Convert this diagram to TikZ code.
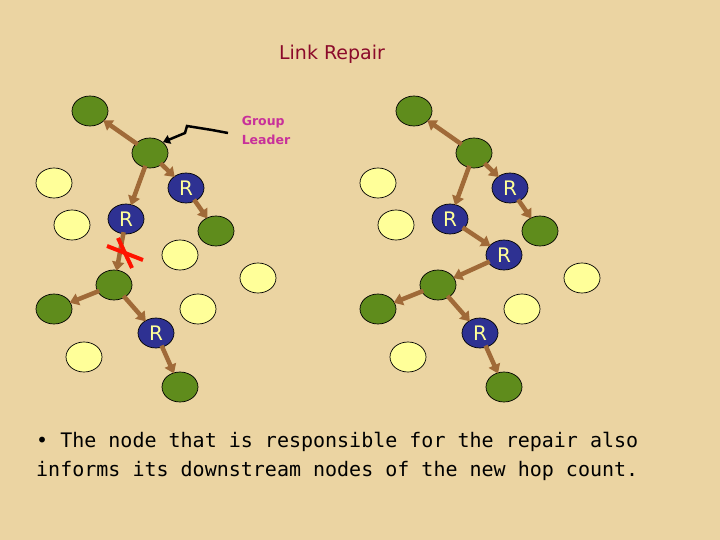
\documentclass[tikz,border=0pt]{standalone}
\usepackage{fontspec}
\usetikzlibrary{arrows.meta,shapes.geometric}
\definecolor{bg}{HTML}{EBD4A2}
\definecolor{gr}{HTML}{5F8C1C}
\definecolor{yl}{HTML}{FFFF99}
\definecolor{bl}{HTML}{2E3192}
\definecolor{br}{HTML}{A06A38}
\definecolor{mag}{HTML}{C8309A}
\definecolor{ttl}{HTML}{8B0A2A}
\newfontfamily\monof{DejaVu Sans Mono}
\newfontfamily\sansf{DejaVu Sans}
\tikzset{
 nd/.style={ellipse,draw=black,line width=0.7pt,minimum width=36pt,minimum height=30pt,inner sep=0pt},
 gn/.style={nd,fill=gr},
 yn/.style={nd,fill=yl},
 rn/.style={nd,fill=bl,text=yl,font=\sansf\fontsize{20}{20}\selectfont},
 ar/.style={draw=br,line width=4.5pt,-{Triangle[length=9pt,width=12pt]},shorten <=-2pt,shorten >=-1pt}
}
\begin{document}
\begin{tikzpicture}[x=1pt,y=-1pt]
\fill[bg] (0,0) rectangle (720,540);
\useasboundingbox (0,0) rectangle (720,540);
\node[text=ttl,font=\sansf\fontsize{19}{19}\selectfont] (title) at (332,54) {Link Repair};
\node[text=mag,font=\sansf\bfseries\fontsize{12.5}{19}\selectfont,align=left] (gl) at (266,130) {Group\\Leader};
% left tree
\node[gn] (L1) at (90,111) {};
\node[gn] (LL) at (150,153) {};
\node[yn] (LY1) at (54,183) {};
\node[rn] (LRa) at (186,188) {R};
\node[rn] (LRb) at (126,219) {R};
\node[yn] (LY2) at (72,225) {};
\node[gn] (LG2) at (216,231) {};
\node[yn] (LY3) at (180,255) {};
\node[yn] (LY4) at (258,278) {};
\node[gn] (LG3) at (114,285) {};
\node[gn] (LG4) at (54,309) {};
\node[yn] (LY5) at (198,309) {};
\node[rn] (LRc) at (156,333) {R};
\node[yn] (LY6) at (84,357) {};
\node[gn] (LG5) at (180,387) {};
\draw[ar] (LL) -- (L1);
\draw[ar] (LL) -- (LRa);
\draw[ar] (LL) -- (LRb);
\draw[ar] (LRa) -- (LG2);
\draw[ar] (LRb) -- (LG3);
\draw[ar] (LG3) -- (LG4);
\draw[ar] (LG3) -- (LRc);
\draw[ar] (LRc) -- (LG5);
\coordinate (X) at (125,253);
\draw[red!85!orange,line width=4pt] ([shift={(-18,-7)}]X) -- ([shift={(18,7)}]X);
\draw[red!85!orange,line width=4pt] ([shift={(-7,-15)}]X) -- ([shift={(7,15)}]X);
% leader pointer
\coordinate (gs) at (228,133);
\draw[black,line width=2.5pt,-{Triangle[length=7pt,width=9pt]}] (gs) -- (212,130) -- (187,126) -- (185,133) -- (LL.north east);
% right tree
\node[gn] (R1) at (414,111) {};
\node[gn] (RL) at (474,153) {};
\node[yn] (RY1) at (378,183) {};
\node[rn] (RRa) at (510,188) {R};
\node[rn] (RRb) at (450,219) {R};
\node[yn] (RY2) at (396,225) {};
\node[gn] (RG2) at (540,231) {};
\node[rn] (RRd) at (504,255) {R};
\node[yn] (RY4) at (582,278) {};
\node[gn] (RG3) at (438,285) {};
\node[gn] (RG4) at (378,309) {};
\node[yn] (RY5) at (522,309) {};
\node[rn] (RRc) at (480,333) {R};
\node[yn] (RY6) at (408,357) {};
\node[gn] (RG5) at (504,387) {};
\draw[ar] (RL) -- (R1);
\draw[ar] (RL) -- (RRa);
\draw[ar] (RL) -- (RRb);
\draw[ar] (RRa) -- (RG2);
\draw[ar] (RRb) -- (RRd);
\draw[ar] (RRd) -- (RG3);
\draw[ar] (RG3) -- (RG4);
\draw[ar] (RG3) -- (RRc);
\draw[ar] (RRc) -- (RG5);
\node[anchor=north west,align=left,font=\monof\fontsize{20}{29}\selectfont,inner sep=0pt] (txt) at (36,432) {\textbullet{} The node that is responsible for the repair also\\informs its downstream nodes of the new hop count.};
\end{tikzpicture}
\end{document}
